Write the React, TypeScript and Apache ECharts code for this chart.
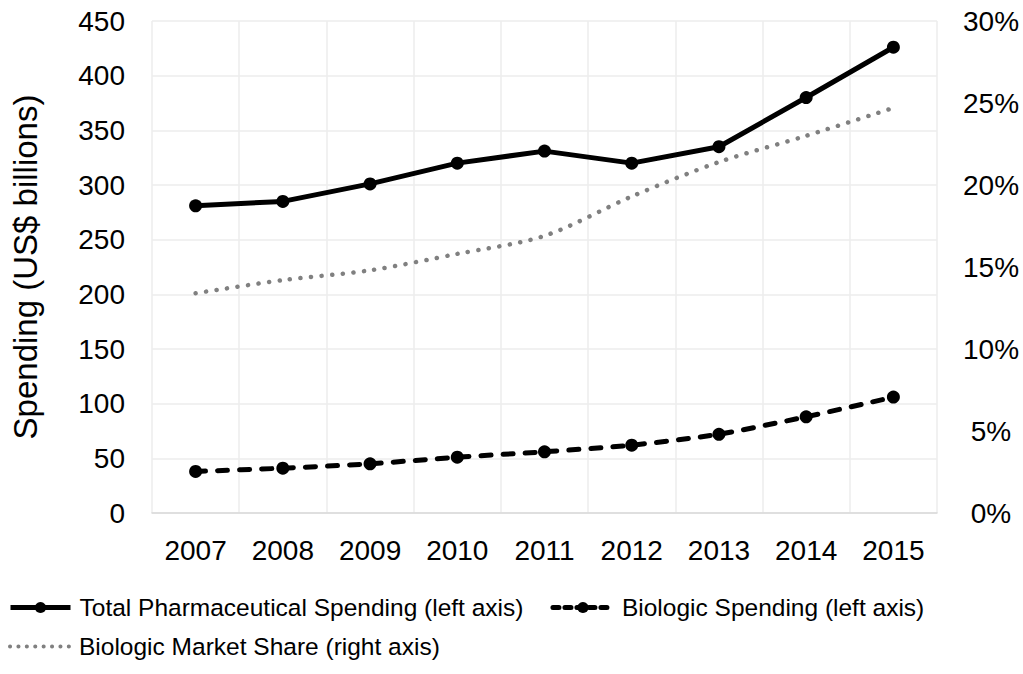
import React, { useEffect, useRef } from "react";
import * as echarts from "echarts";

const years = ["2007", "2008", "2009", "2010", "2011", "2012", "2013", "2014", "2015"];
const totalSpending = [281, 285, 301, 320, 331, 320, 335, 380, 426];
const biologicSpending = [38, 41, 45, 51, 56, 62, 72, 88, 106];
const biologicShare = [13.4, 14.2, 14.8, 15.8, 16.9, 19.3, 21.4, 23.0, 24.7];
const leftTicks = { min: 0, max: 450, interval: 50 };
const rightTicks = { min: 0, max: 30, interval: 5 };

const FONT = "Liberation Sans, Arial, sans-serif";

const NAME_TOTAL = "Total Pharmaceutical Spending (left axis)";
const NAME_BIO = "Biologic Spending (left axis)";
const NAME_SHARE = "Biologic Market Share (right axis)";

export default function App() {
  const ref = useRef<HTMLDivElement>(null);
  useEffect(() => {
    if (!ref.current) return;
    const chart = echarts.init(ref.current, null, { renderer: "svg" });
    const gridLine = { show: true, lineStyle: { color: "#ececec", width: 1.5 } };
    const legendText = { color: "#000", fontSize: 24.5, fontFamily: FONT, padding: [0, 0, 0, 4] };
    chart.setOption({
      animation: false,
      backgroundColor: "#ffffff",
      textStyle: { fontFamily: FONT },
      grid: { left: 152, right: 86, top: 21, bottom: 161, containLabel: false },
      xAxis: {
        type: "category",
        data: years,
        boundaryGap: true,
        axisLine: { show: true, lineStyle: { color: "#d9d9d9", width: 1.5 } },
        axisTick: { show: false },
        splitLine: gridLine,
        axisLabel: { color: "#000", fontSize: 28, fontFamily: FONT, margin: 23, interval: 0 },
      },
      yAxis: [
        {
          type: "value",
          ...leftTicks,
          name: "Spending (US$ billions)",
          nameLocation: "middle",
          nameGap: 110,
          nameTextStyle: { color: "#000", fontSize: 33, fontFamily: FONT },
          axisLine: { show: false },
          axisTick: { show: false },
          splitLine: gridLine,
          axisLabel: { color: "#000", fontSize: 28, fontFamily: FONT, margin: 27 },
        },
        {
          type: "value",
          ...rightTicks,
          position: "right",
          axisLine: { show: false },
          axisTick: { show: false },
          splitLine: { show: false },
          axisLabel: {
            color: "#000",
            fontSize: 28,
            fontFamily: FONT,
            margin: 54,
            align: "center",
            formatter: (v: number) => `${v}%`,
          },
        },
      ],
      legend: [
        {
          data: [
            { name: NAME_TOTAL, lineStyle: { width: 5, color: "#000" } },
            { name: NAME_BIO, lineStyle: { width: 5, color: "#000", type: [6, 6], cap: "round" } },
          ],
          left: 8,
          top: 595,
          padding: 0,
          itemWidth: 60,
          itemHeight: 14,
          itemGap: 27,
          textStyle: legendText,
        },
        {
          data: [
            {
              name: NAME_SHARE,
              itemStyle: { opacity: 0 },
              lineStyle: { width: 4, color: "#808080", type: [0.1, 8.3], cap: "round" },
            },
          ],
          left: 8,
          top: 634,
          padding: 0,
          itemWidth: 60,
          itemHeight: 14,
          textStyle: legendText,
        },
      ],
      series: [
        {
          name: NAME_TOTAL,
          type: "line",
          yAxisIndex: 0,
          data: totalSpending,
          symbol: "circle",
          symbolSize: 13,
          itemStyle: { color: "#000" },
          lineStyle: { color: "#000", width: 5 },
          z: 3,
        },
        {
          name: NAME_BIO,
          type: "line",
          yAxisIndex: 0,
          data: biologicSpending,
          symbol: "circle",
          symbolSize: 13,
          smooth: 0.2,
          itemStyle: { color: "#000" },
          lineStyle: { color: "#000", width: 5, type: [10, 12], cap: "round" },
          z: 3,
        },
        {
          name: NAME_SHARE,
          type: "line",
          yAxisIndex: 1,
          data: biologicShare,
          symbol: "none",
          smooth: 0.3,
          itemStyle: { color: "#808080" },
          lineStyle: { color: "#808080", width: 4.5, type: [0.1, 10.5], cap: "round" },
          z: 2,
        },
      ],
    });
    return () => chart.dispose();
  }, []);
  return (
    <div
      ref={ref}
      style={{ position: "fixed", left: 0, top: 0, width: 1023, height: 674 }}
    />
  );
}
